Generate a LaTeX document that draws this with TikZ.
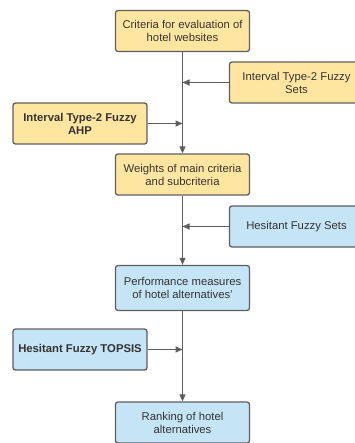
\documentclass[tikz,border=0pt]{standalone}
\usepackage{fontspec}
\setmainfont{Liberation Sans}
\usetikzlibrary{arrows.meta}
\definecolor{boxyellow}{RGB}{255,230,160}
\definecolor{boxblue}{RGB}{197,228,246}
\definecolor{edgegray}{RGB}{94,94,94}
\definecolor{txtgray}{RGB}{51,51,51}
\begin{document}
\begin{tikzpicture}[x=1pt,y=-1pt,
  box/.style={draw=edgegray, line width=1.3pt, rounded corners=2.5pt, minimum width=134pt, minimum height=41pt, align=center, text=txtgray, font=\fontsize{11.3}{13}\selectfont, inner sep=2pt},
  ybox/.style={box, fill=boxyellow},
  bbox/.style={box, fill=boxblue},
  conn/.style={draw=edgegray, line width=1pt, -{Triangle[length=7pt,width=6pt]}}
]
\useasboundingbox (0,0) rectangle (354,443);
\node[ybox] (crit) at (182.5,31) {Criteria for evaluation of\\hotel websites};
\node[ybox] (its) at (296.5,82.5) {Interval Type-2 Fuzzy\\Sets};
\node[ybox] (ahp) at (80,123.5) {\textbf{Interval Type-2 Fuzzy}\\\textbf{AHP}};
\node[ybox] (wts) at (182.5,174.5) {Weights of main criteria\\and subcriteria};
\node[bbox] (hfs) at (296.5,226.5) {Hesitant Fuzzy Sets};
\node[bbox, minimum height=45pt] (perf) at (182.5,288) {Performance measures\\of hotel alternatives'};
\node[bbox] (top) at (80,349.5) {\textbf{Hesitant Fuzzy TOPSIS}};
\node[bbox] (rank) at (182.5,422.5) {Ranking of hotel\\alternatives};
\draw[conn] (crit) -- (wts);
\draw[conn] (its) -- (its -| crit);
\draw[conn] (ahp) -- (ahp -| crit);
\draw[conn] (wts) -- (perf);
\draw[conn] (hfs) -- (hfs -| wts);
\draw[conn] (perf) -- (rank);
\draw[conn] (top) -- (top -| perf);
\end{tikzpicture}
\end{document}
